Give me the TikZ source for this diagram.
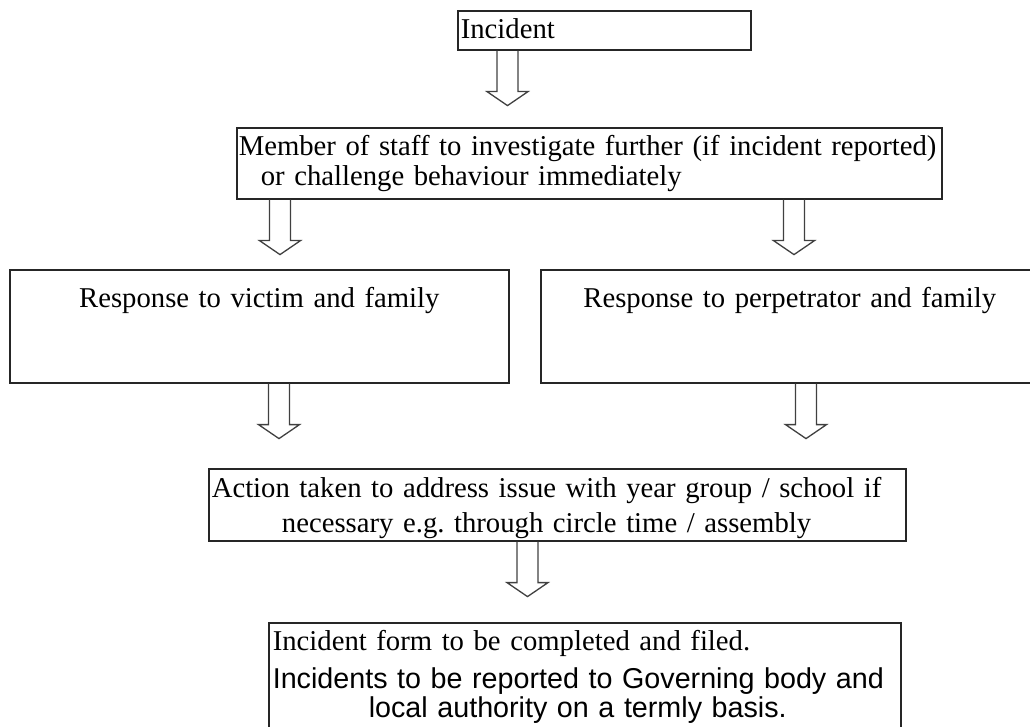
\documentclass[tikz,border=0pt]{standalone}
\usepackage{fontspec}
\setmainfont{Liberation Serif}
\setsansfont{Liberation Sans}
\usetikzlibrary{calc}

\tikzset{
  flowbox/.style={draw=black!85, line width=1.6pt, anchor=north west, inner xsep=3pt, inner ysep=0pt, font=\fontsize{28.7}{30}\selectfont},
  hollow/.style={draw=black!75, line width=1.3pt, line join=miter},
}

% hollow block arrow: x position, from node, to node
\newcommand{\blockarrow}[3]{%
  \path let \p1=(#2.south), \p2=(#3.north) in (#1,\y1) coordinate (s) (#1,\y2) coordinate (e);
  \draw[hollow] ($(s)+(-10.5,0)$) -- ($(s)!41pt!(e)+(-10.5,0)$) -- ($(s)!41pt!(e)+(-20.5,0)$) -- ($(s)!55pt!(e)$)
    -- ($(s)!41pt!(e)+(20.5,0)$) -- ($(s)!41pt!(e)+(10.5,0)$) -- ($(s)+(10.5,0)$);
}

\begin{document}
\frenchspacing
\begin{tikzpicture}[x=1pt, y=-1pt]

\path[use as bounding box] (0,0) rectangle (1030,727);
\clip (0,0) rectangle (1030,727);

\node[flowbox, text width=287pt, align=left, text height=28pt, text depth=11pt] (incident) at (457,10) {Incident};
\node[flowbox, text width=701pt, inner xsep=2pt, align=left, text height=28pt, text depth=43pt] (staff) at (236,127) {\mbox{Member of staff to investigate further (if incident reported)}\\\hspace*{22pt}or challenge behaviour immediately};

\node[flowbox, text width=493pt, align=center, text height=38pt, text depth=75pt] (victim) at (9,269) {Response to victim and family};
\node[flowbox, text width=492pt, align=center, text height=38pt, text depth=75pt] (perp) at (540,269) {Response to perpetrator and family};

\node[flowbox, text width=691pt, align=left, text height=29pt, text depth=43pt] (action) at (208,468) {\begin{tabular}[t]{@{}c@{}}Action taken to address issue with year group / school if\\[5pt]necessary e.g. through circle time / assembly\end{tabular}};

\node[flowbox, text width=624pt, align=left, text height=28pt, text depth=100pt, inner xsep=4pt] (form) at (268,622) {Incident form to be completed and filed.\\[8pt]\sffamily\mbox{Incidents to be reported to Governing body and}\\[-1pt]\hspace*{96pt}local authority on a termly basis.};

\blockarrow{507.5}{incident}{staff}
\blockarrow{280}{staff}{victim}
\blockarrow{794}{staff}{perp}
\blockarrow{279}{victim}{action}
\blockarrow{806}{perp}{action}
\blockarrow{527.5}{action}{form}

\end{tikzpicture}
\end{document}
